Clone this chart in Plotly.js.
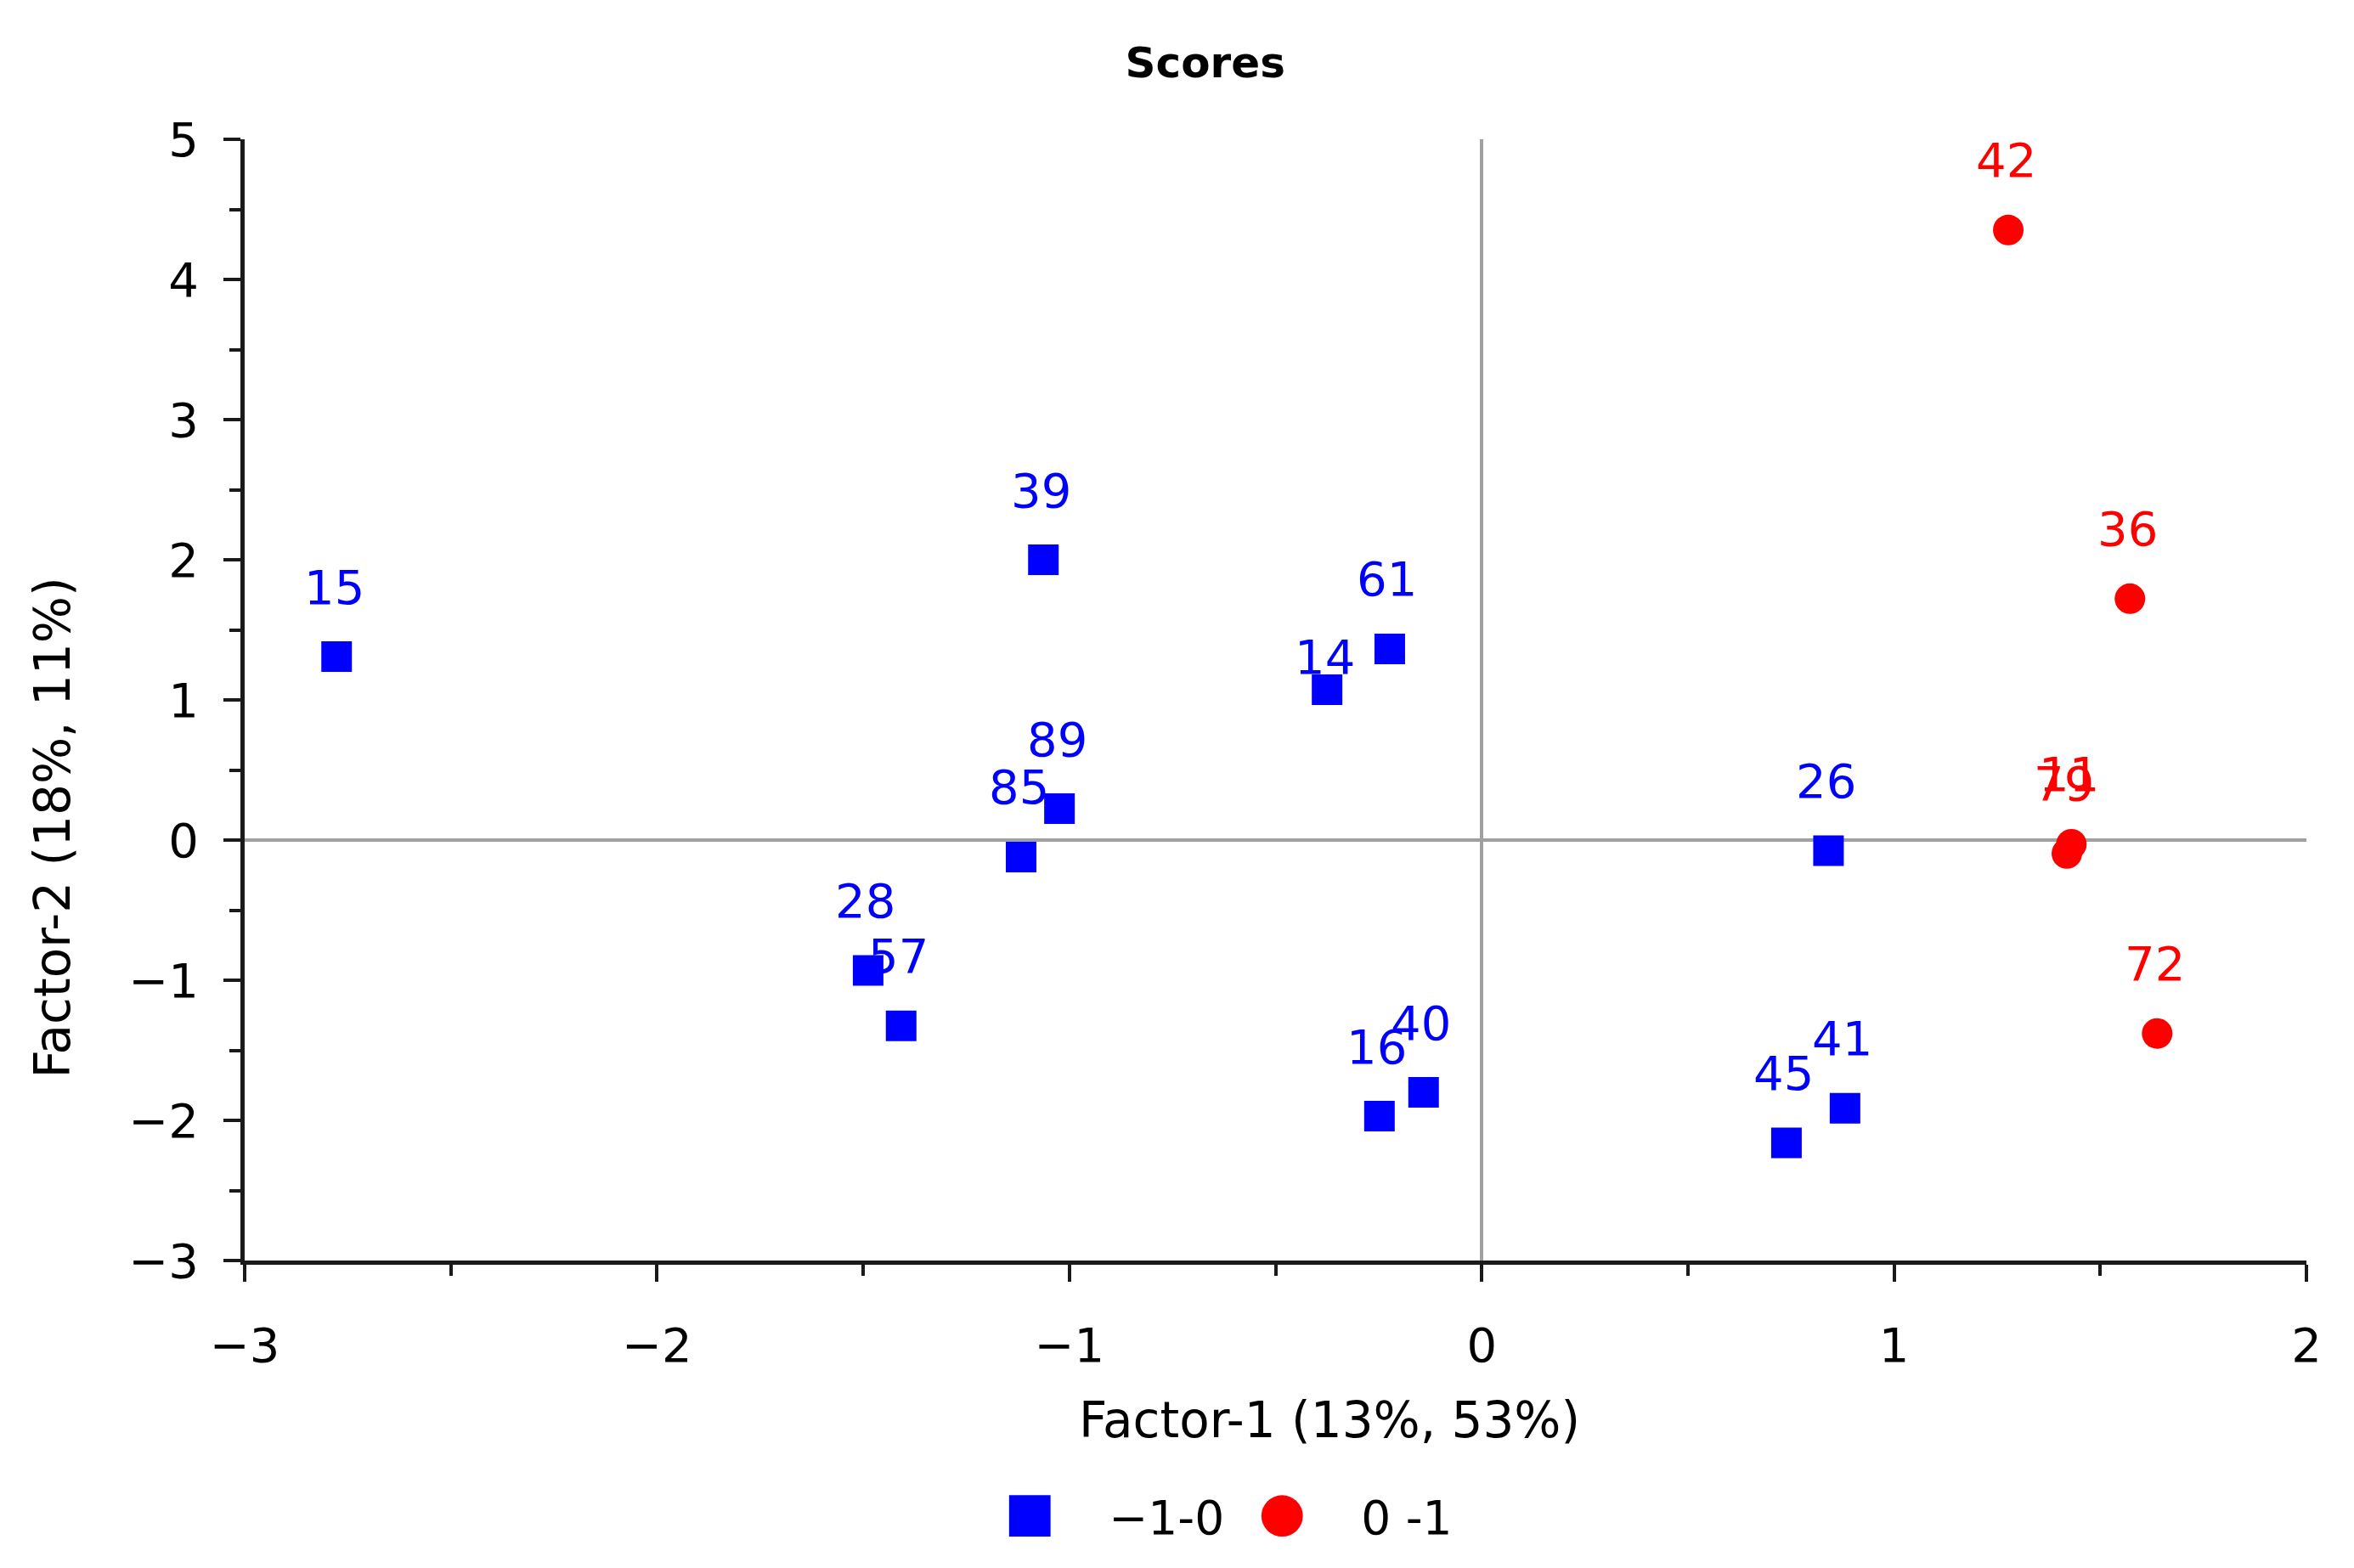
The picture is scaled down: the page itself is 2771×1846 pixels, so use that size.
<!DOCTYPE html>
<html>
<head>
<meta charset="utf-8">
<script src="https://cdn.plot.ly/plotly-3.0.1.min.js"></script>
<style>html,body{margin:0;padding:0;background:#fff;}#chart{width:2771px;height:1846px;}</style>
</head>
<body>
<div id="chart"></div>
<script>
// ---- data ----
const groupNames = ["\u22121-0", "0 -1"];

const blueIds = ["15", "39", "89", "85", "28", "57", "14", "61", "16", "40", "26", "45", "41"];
const blueX   = [-2.777, -1.063, -1.024, -1.117, -1.488, -1.408, -0.375, -0.223, -0.248, -0.141, 0.841, 0.739, 0.881];
const blueY   = [1.309, 2.0, 0.224, -0.121, -0.93, -1.326, 1.073, 1.364, -1.97, -1.80, -0.075, -2.16, -1.914];

const redIds = ["42", "36", "72", "11", "79"];
const redX   = [1.277, 1.572, 1.638, 1.43, 1.419];
const redY   = [4.353, 1.722, -1.38, -0.03, -0.096];

const xTicks = [-3, -2, -1, 0, 1, 2];
const yTicks = [-3, -2, -1, 0, 1, 2, 3, 4, 5];

// ---- style ----
const FONT = "DejaVu Sans, Verdana, sans-serif";
const BLUE = "#0000ff";
const RED = "#ff0000";
const AXIS = "#1a1a1a";
const labelLift = 82;            // px above point centre
const labelLiftOverride = {"14": 38};

const traces = [
  {
    type: "scatter", mode: "markers", name: groupNames[0],
    x: blueX, y: blueY, text: blueIds, hoverinfo: "text+x+y",
    marker: {symbol: "square", size: 36, color: BLUE}
  },
  {
    type: "scatter", mode: "markers", name: groupNames[1],
    x: redX, y: redY, text: redIds, hoverinfo: "text+x+y",
    marker: {symbol: "circle", size: 36, color: RED}
  }
];

function labels(ids, xs, ys, color) {
  return ids.map((id, i) => ({
    x: xs[i], y: ys[i], xref: "x", yref: "y", text: id, showarrow: false,
    xanchor: "center", yanchor: "middle",
    xshift: -3, yshift: (labelLiftOverride[id] !== undefined ? labelLiftOverride[id] : labelLift),
    font: {family: FONT, size: 56, color: color}
  }));
}

const annotations = [].concat(
  labels(blueIds, blueX, blueY, BLUE),
  labels(redIds, redX, redY, RED),
  [
    {xref: "paper", yref: "paper", x: 0.526, y: -0.1424, text: "Factor-1 (13%, 53%)",
     showarrow: false, xanchor: "center", yanchor: "middle",
     font: {family: FONT, size: 58, color: "#000"}},
    {xref: "paper", yref: "paper", x: -0.0931, y: 0.386, text: "Factor-2 (18%, 11%)",
     showarrow: false, xanchor: "center", yanchor: "middle", textangle: -90,
     font: {family: FONT, size: 58, color: "#000"}}
  ]
);

const axisCommon = {
  showgrid: false, showline: true, linecolor: AXIS, linewidth: 5,
  ticks: "outside", ticklen: 20, tickwidth: 4, tickcolor: AXIS,
  zeroline: true, zerolinecolor: "#a0a0a0", zerolinewidth: 4,
  tickfont: {family: FONT, size: 56, color: "#000"},
  minor: {dtick: 0.5, ticks: "outside", ticklen: 13, tickwidth: 4, tickcolor: AXIS, showgrid: false},
  fixedrange: true
};

const layout = {
  width: 2771, height: 1846,
  paper_bgcolor: "#fff", plot_bgcolor: "#fff",
  margin: {l: 288, r: 56, t: 164, b: 362, autoexpand: false},
  title: {text: "<b>Scores</b>", x: 0.512, xanchor: "center", y: 0.96, yanchor: "middle",
          font: {family: FONT, size: 50, color: "#000"}},
  xaxis: Object.assign({}, axisCommon, {range: [-3, 2], tickvals: xTicks, ticklabelstandoff: 27}),
  yaxis: Object.assign({}, axisCommon, {range: [-3, 5], tickvals: yTicks, ticklabelstandoff: 18}),
  showlegend: true,
  legend: {orientation: "h", xref: "paper", yref: "paper", x: 0.3425, y: -0.228,
           xanchor: "left", yanchor: "middle",
           font: {family: FONT, size: 55, color: "#000"},
           itemwidth: 176, entrywidth: 106, entrywidthmode: "pixels",
           bgcolor: "rgba(0,0,0,0)"},
  annotations: annotations
};

function enlargeLegendSymbols() {
  document.querySelectorAll("#chart .legend .legendpoints path").forEach(p => {
    const t = p.getAttribute("transform") || "";
    if (t.indexOf("scale") < 0) p.setAttribute("transform", t + " scale(3.05)");
  });
}

Plotly.newPlot("chart", traces, layout, {displayModeBar: false, staticPlot: true}).then(enlargeLegendSymbols);
</script>
</body>
</html>
